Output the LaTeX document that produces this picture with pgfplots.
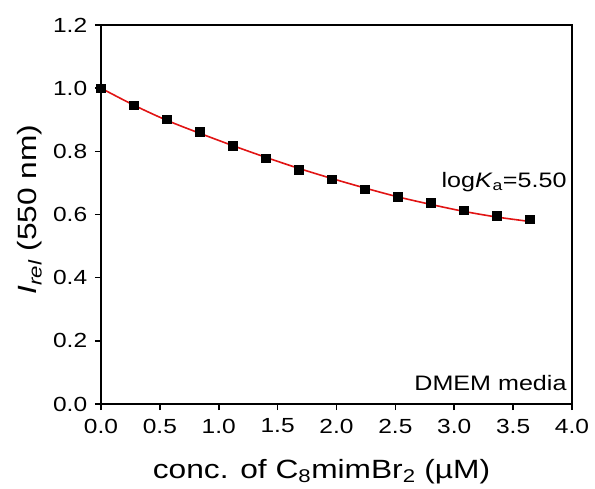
\documentclass[border=0pt]{standalone}
\usepackage{fontspec}
\setmainfont[FakeStretch=1.2]{Liberation Sans}
\usepackage{pgfplots}
\pgfplotsset{compat=1.18}

\definecolor{fitred}{RGB}{225,20,20}

\begin{document}
\fontsize{20}{24}\selectfont
\begin{tikzpicture}
\begin{axis}[
    scale only axis,
    width=471bp, height=379bp,
    xmin=0, xmax=4, ymin=0, ymax=1.2,
    xtick={0,0.5,...,4}, ytick={0,0.2,...,1.2},
    tick align=outside,
    xtick pos=bottom, ytick pos=left,
    major tick length=6bp,
    axis line style={line width=2bp},
    tick style={line width=1.6bp, black},
    /pgf/number format/assume math mode=true,
    /pgf/number format/.cd, fixed, fixed zerofill, precision=1, /pgfplots/.cd,
    ticklabel style={font=\fontsize{20.5}{24}\selectfont},
    xticklabel style={yshift=-2bp},
    yticklabel style={xshift=-1bp},
    xlabel={conc. of C\textsubscript{8}mimBr\textsubscript{2} (µM)},
    ylabel={\textit{I}\textsubscript{\textit{rel}} (550 nm)},
    every axis x label/.style={at={(axis description cs:0.5,0)},
      xshift=-15bp, yshift=-67.5bp, anchor=center,
      font=\fontsize{26.5}{30}\selectfont},
    every axis y label/.style={at={(axis description cs:0,0.5)},
      xshift=-71bp, yshift=5bp, rotate=90, anchor=center,
      font=\fontsize{26.5}{30}\selectfont},
  ]

  % fitted binding curve
  \addplot[color=fitred, line width=1.6bp, smooth, no markers] coordinates {
    (0,1.000) (0.28,0.946) (0.56,0.898) (0.84,0.857) (1.12,0.818)
    (1.40,0.781) (1.68,0.746) (1.96,0.714) (2.24,0.684) (2.52,0.656)
    (2.80,0.632) (3.08,0.610) (3.36,0.592) (3.64,0.578)
  };

  % measured
  \addplot[only marks, mark=square*, mark size=4.3bp, black] coordinates {
    (0,1.000) (0.28,0.946) (0.56,0.902) (0.84,0.863) (1.12,0.817)
    (1.40,0.778) (1.68,0.741) (1.96,0.712) (2.24,0.680) (2.52,0.657)
    (2.80,0.638) (3.08,0.614) (3.36,0.596) (3.64,0.585)
  };

  \node[anchor=base east, inner sep=0pt, font=\fontsize{21}{25}\selectfont]
    at (axis cs:3.955,0.686) {log\textit{K}\textsubscript{a}=5.50};
  \node[anchor=base east, inner sep=0pt, font=\fontsize{21}{25}\selectfont]
    at (axis cs:3.955,0.044) {DMEM media};

\end{axis}
\pgfresetboundingbox
\path (current axis.south west) ++(-101bp,-85bp)
      (current axis.north east) ++(23bp,25bp);
\end{tikzpicture}
\end{document}
